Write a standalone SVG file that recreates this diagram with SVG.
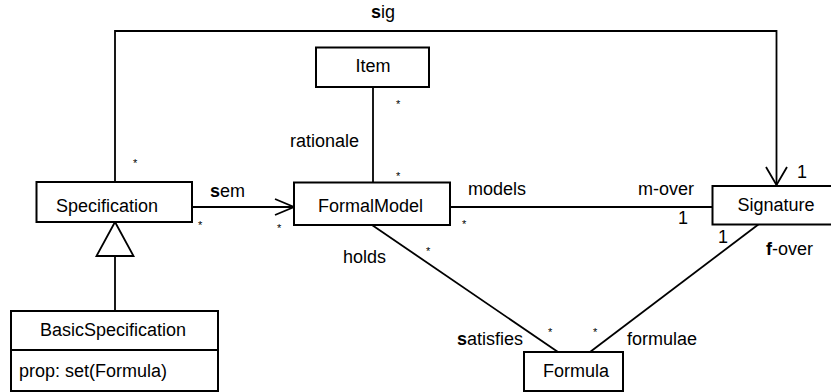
<svg xmlns="http://www.w3.org/2000/svg" width="831" height="392" viewBox="0 0 831 392">
  <style>
    .box { fill: #fff; stroke: #000; stroke-width: 2; }
    .ln { fill: none; stroke: #000; stroke-width: 1.8; }
    .t { font-family: "Liberation Sans", Arial, sans-serif; font-size: 18px; fill: #000; }
    .c { text-anchor: middle; }
    .m { font-family: "Liberation Sans", Arial, sans-serif; font-size: 11px; fill: #000; }
    .b { font-weight: bold; }
  </style>
  <rect width="831" height="392" fill="#fff"/>

  <g id="connectors">
    <!-- sig: Specification to Signature -->
    <polyline class="ln" points="115,182 115,31 776.5,31 776.5,185"/>
    <polyline class="ln" points="766,167 776.5,185 787,167"/>
    <!-- sem: Specification to FormalModel -->
    <line class="ln" x1="192" y1="207" x2="294" y2="207"/>
    <polyline class="ln" points="275,199 294,207 275,215"/>
    <!-- generalization -->
    <line class="ln" x1="115" y1="256" x2="115" y2="311"/>
    <polygon class="ln" points="115,222 96.5,256 133.5,256" fill="#fff"/>
    <!-- rationale -->
    <line class="ln" x1="373" y1="87" x2="373" y2="182"/>
    <!-- models / m-over -->
    <line class="ln" x1="450" y1="207" x2="712" y2="207"/>
    <!-- holds / satisfies -->
    <line class="ln" x1="372" y1="225" x2="558" y2="352"/>
    <!-- formulae / f-over -->
    <line class="ln" x1="759" y1="224" x2="590" y2="352"/>
  </g>

  <g id="labels">
    <text class="t" x="371" y="18"><tspan class="b">s</tspan>ig</text>
    <text class="t" x="290" y="147">rationale</text>
    <text class="t" x="210" y="197"><tspan class="b">s</tspan>em</text>
    <text class="t" x="343" y="263">holds</text>
    <text class="t" x="468" y="195">models</text>
    <text class="t" x="638" y="195">m-over</text>
    <text class="t" x="766" y="255"><tspan class="b">f</tspan>-over</text>
    <text class="t" x="457" y="345"><tspan class="b">s</tspan>atisfies</text>
    <text class="t" x="627" y="345">formulae</text>
    <text class="t" x="797" y="178">1</text>
    <text class="t" x="678" y="224">1</text>
    <text class="t" x="718" y="243">1</text>
    <text class="m" x="396" y="108">*</text>
    <text class="m" x="396" y="180">*</text>
    <text class="m" x="133" y="167">*</text>
    <text class="m" x="198" y="229">*</text>
    <text class="m" x="277" y="232">*</text>
    <text class="m" x="462" y="228">*</text>
    <text class="m" x="426" y="255">*</text>
    <text class="m" x="548" y="336">*</text>
    <text class="m" x="593" y="336">*</text>
  </g>

  <g id="Item">
    <rect class="box" x="316" y="47.5" width="113" height="39.5"/>
    <text class="t c" x="373" y="72">Item</text>
  </g>
  <g id="Specification">
    <rect class="box" x="36.5" y="182" width="155.5" height="40"/>
    <text class="t c" x="107" y="212">Specification</text>
  </g>
  <g id="FormalModel">
    <rect class="box" x="294" y="182.5" width="156" height="42.5"/>
    <text class="t c" x="370.5" y="212">FormalModel</text>
  </g>
  <g id="Signature">
    <rect class="box" x="712.5" y="186" width="125" height="38.5"/>
    <text class="t c" x="776" y="211">Signature</text>
  </g>
  <g id="Formula">
    <rect class="box" x="524" y="352" width="99" height="39"/>
    <text class="t c" x="576" y="377">Formula</text>
  </g>
  <g id="BasicSpecification">
    <rect class="box" x="11" y="311" width="207" height="80"/>
    <line class="ln" x1="11" y1="350" x2="218" y2="350" stroke-width="2"/>
    <text class="t c" x="113" y="336">BasicSpecification</text>
    <text class="t" x="19" y="377">prop: set(Formula)</text>
  </g>
</svg>
